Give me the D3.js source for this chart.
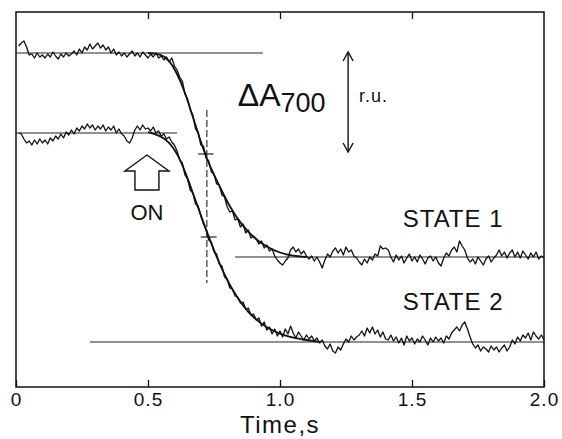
<!DOCTYPE html>
<html>
<head>
<meta charset="utf-8">
<script src="https://cdn.jsdelivr.net/npm/d3@7"></script>
<style>
  body { margin: 0; background: #fff; }
  svg { display: block; }
  text { font-family: "Liberation Sans", Arial, sans-serif; fill: #111; }
</style>
</head>
<body>
<div id="chart"></div>
<script>
// sampling of the recorded traces
const tStart = 0.01, dt = 0.01

// STATE 1 trace (upper), r.u.
const state1 = [
  3.41, 3.44, 3.46, 3.40, 3.32, 3.33, 3.29, 3.34, 3.30, 3.32,
  3.29, 3.33, 3.30, 3.35, 3.31, 3.28, 3.33, 3.30, 3.34, 3.31,
  3.33, 3.36, 3.32, 3.38, 3.34, 3.40, 3.37, 3.43, 3.38, 3.41,
  3.44, 3.39, 3.42, 3.37, 3.40, 3.34, 3.38, 3.32, 3.35, 3.31,
  3.34, 3.30, 3.33, 3.36, 3.31, 3.34, 3.30, 3.35, 3.32, 3.29,
  3.33, 3.30, 3.34, 3.29, 3.31, 3.27, 3.30, 3.25, 3.29, 3.21,
  3.17, 3.10, 3.06, 2.93, 2.88, 2.77, 2.72, 2.58, 2.55, 2.42,
  2.41, 2.29, 2.26, 2.15, 2.13, 2.03, 2.02, 1.92, 1.90, 1.80,
  1.75, 1.76, 1.67, 1.68, 1.60, 1.63, 1.54, 1.57, 1.49, 1.51,
  1.48, 1.43, 1.46, 1.39, 1.42, 1.36, 1.38, 1.31, 1.27, 1.24,
  1.22, 1.26, 1.29, 1.37, 1.40, 1.35, 1.38, 1.33, 1.36, 1.31,
  1.28, 1.31, 1.26, 1.30, 1.25, 1.19, 1.27, 1.33, 1.30, 1.36,
  1.39, 1.34, 1.38, 1.32, 1.40, 1.35, 1.37, 1.31, 1.29, 1.25,
  1.22, 1.28, 1.24, 1.30, 1.27, 1.33, 1.31, 1.41, 1.38, 1.39,
  1.37, 1.30, 1.25, 1.32, 1.27, 1.31, 1.24, 1.29, 1.33, 1.26,
  1.30, 1.25, 1.32, 1.28, 1.23, 1.29, 1.31, 1.26, 1.30, 1.24,
  1.21, 1.29, 1.34, 1.31, 1.37, 1.40, 1.35, 1.46, 1.41, 1.37,
  1.29, 1.25, 1.28, 1.23, 1.30, 1.26, 1.22, 1.28, 1.31, 1.25,
  1.29, 1.32, 1.37, 1.31, 1.35, 1.29, 1.34, 1.37, 1.30, 1.35,
  1.29, 1.36, 1.32, 1.28, 1.34, 1.30, 1.35, 1.28, 1.31, 1.29
]

// STATE 2 trace (lower)
const state2 = [
  2.54, 2.53, 2.48, 2.44, 2.46, 2.42, 2.47, 2.43, 2.48, 2.44,
  2.47, 2.43, 2.49, 2.46, 2.51, 2.48, 2.53, 2.49, 2.55, 2.52,
  2.57, 2.53, 2.59, 2.56, 2.61, 2.58, 2.63, 2.59, 2.62, 2.57,
  2.61, 2.58, 2.62, 2.56, 2.60, 2.57, 2.61, 2.54, 2.58, 2.53,
  2.51, 2.46, 2.44, 2.49, 2.57, 2.61, 2.57, 2.62, 2.58, 2.59,
  2.56, 2.60, 2.54, 2.56, 2.51, 2.53, 2.48, 2.50, 2.45, 2.42,
  2.36, 2.27, 2.24, 2.12, 2.08, 1.97, 1.94, 1.83, 1.81, 1.71,
  1.63, 1.57, 1.47, 1.45, 1.35, 1.33, 1.23, 1.21, 1.10, 1.08,
  0.99, 0.98, 0.91, 0.90, 0.84, 0.85, 0.78, 0.79, 0.72, 0.73,
  0.67, 0.69, 0.61, 0.65, 0.57, 0.60, 0.53, 0.58, 0.51, 0.56,
  0.50, 0.58, 0.53, 0.61, 0.54, 0.49, 0.55, 0.51, 0.47, 0.52,
  0.48, 0.51, 0.46, 0.49, 0.44, 0.47, 0.41, 0.38, 0.43, 0.36,
  0.34, 0.40, 0.37, 0.43, 0.48, 0.45, 0.51, 0.47, 0.50, 0.52,
  0.56, 0.51, 0.59, 0.54, 0.60, 0.53, 0.57, 0.50, 0.55, 0.48,
  0.47, 0.52, 0.46, 0.50, 0.44, 0.49, 0.42, 0.51, 0.46, 0.49,
  0.43, 0.48, 0.45, 0.51, 0.47, 0.42, 0.49, 0.45, 0.50, 0.46,
  0.49, 0.44, 0.51, 0.48, 0.54, 0.57, 0.60, 0.56, 0.62, 0.65,
  0.58, 0.50, 0.43, 0.39, 0.42, 0.36, 0.40, 0.38, 0.35, 0.41,
  0.37, 0.40, 0.35, 0.39, 0.42, 0.36, 0.40, 0.47, 0.43, 0.50,
  0.46, 0.52, 0.49, 0.54, 0.47, 0.55, 0.51, 0.48, 0.52, 0.47
]

// smooth fitted curves [t, value]
const fit1 = [[0.50,3.34],[0.55,3.33],[0.58,3.27],[0.61,3.14],[0.64,2.95],[0.67,2.70],
  [0.70,2.45],[0.72,2.30],[0.75,2.12],[0.78,1.96],[0.81,1.80],[0.85,1.64],[0.90,1.49],
  [0.95,1.40],[1.00,1.34],[1.05,1.31],[1.10,1.30]]
const fit2 = [[0.50,2.55],[0.55,2.51],[0.58,2.45],[0.61,2.34],[0.64,2.16],[0.67,1.94],
  [0.70,1.72],[0.73,1.50],[0.76,1.30],[0.79,1.12],[0.82,0.97],[0.86,0.81],[0.90,0.69],
  [0.95,0.59],[1.00,0.53],[1.05,0.49],[1.10,0.47],[1.15,0.45]]

// horizontal reference levels: [t0, t1, value]
const levels = [[0, 0.935, 3.34], [0, 0.61, 2.54], [0.83, 2.0, 1.30], [0.28, 2.0, 0.45]]
// half-time marks
const tHalf = 0.723
const halfMarks = [[0.69, 0.748, 2.33], [0.70, 0.76, 1.50]]
const dashRange = [1.04, 2.77]

const xTicks = [0, 0.5, 1.0, 1.5, 2.0]
const xTickLabels = ['0', '0.5', '1.0', '1.5', '2.0']

var width = 562, height = 439
var margin = {left: 16, top: 12, right: 18, bottom: 52}

var svg = d3.select('#chart').append('svg')
    .attr('width', width)
    .attr('height', height)

var x = d3.scaleLinear().domain([0, 2]).range([margin.left, width - margin.right])
var y = d3.scaleLinear().domain([0, 3.75]).range([height - margin.bottom, margin.top])

var toPts = arr => arr.map((v, i) => [tStart + i * dt, v])
var line = d3.line().x(d => x(d[0])).y(d => y(d[1]))
var smooth = d3.line().x(d => x(d[0])).y(d => y(d[1])).curve(d3.curveBasis)

// frame
svg.append('rect')
    .attr('x', x(0)).attr('y', y(3.75))
    .attr('width', x(2) - x(0)).attr('height', y(0) - y(3.75))
    .attr('fill', 'none').attr('stroke', '#111').attr('stroke-width', 1.5)

// axes (ticks pointing inward)
var xAxis = d3.axisBottom(x).tickValues(xTicks).tickSize(-7).tickPadding(6)
    .tickFormat((d, i) => xTickLabels[i])
var gx = svg.append('g').attr('transform', `translate(0,${y(0)})`).call(xAxis)
gx.select('.domain').remove()
gx.selectAll('line').attr('stroke', '#111').attr('stroke-width', 1.3)
gx.selectAll('text').attr('font-size', 19).attr('fill', '#111')
    .style('letter-spacing', '1px')

var gt = svg.append('g').attr('transform', `translate(0,${y(3.75)})`)
    .call(d3.axisTop(x).tickValues(xTicks.slice(1, -1)).tickSize(-7).tickFormat(''))
gt.select('.domain').remove()
gt.selectAll('line').attr('stroke', '#111').attr('stroke-width', 1.3)

svg.append('text')
    .attr('x', x(1.0)).attr('y', height - 6)
    .attr('text-anchor', 'middle')
    .attr('font-size', 24)
    .style('letter-spacing', '1.5px')
    .text('Time,s')

// reference levels
svg.selectAll('.level')
    .data(levels)
    .enter()
    .append('line')
    .attr('x1', d => x(d[0])).attr('x2', d => x(d[1]))
    .attr('y1', d => y(d[2])).attr('y2', d => y(d[2]))
    .attr('stroke', '#222').attr('stroke-width', 1.1)

// dashed half-time line
svg.append('line')
    .attr('x1', x(tHalf)).attr('x2', x(tHalf))
    .attr('y1', y(dashRange[1])).attr('y2', y(dashRange[0]))
    .attr('stroke', '#222').attr('stroke-width', 1.1)
    .attr('stroke-dasharray', '7,3')
svg.selectAll('.half')
    .data(halfMarks)
    .enter()
    .append('line')
    .attr('x1', d => x(d[0])).attr('x2', d => x(d[1]))
    .attr('y1', d => y(d[2])).attr('y2', d => y(d[2]))
    .attr('stroke', '#222').attr('stroke-width', 1.2)

// fits
;[fit1, fit2].forEach(f => {
    svg.append('path').attr('d', smooth(f))
        .attr('fill', 'none').attr('stroke', '#111').attr('stroke-width', 1.8)
})

// noisy traces
;[state1, state2].forEach(s => {
    svg.append('path').attr('d', line(toPts(s)))
        .attr('fill', 'none').attr('stroke', '#111').attr('stroke-width', 1.3)
        .attr('stroke-linejoin', 'round')
})

// double-headed scale arrow (1 r.u.)
var arrT = 1.258, arrV = [2.35, 3.35]
var ax = x(arrT)
svg.append('line')
    .attr('x1', ax).attr('x2', ax).attr('y1', y(arrV[1])).attr('y2', y(arrV[0]))
    .attr('stroke', '#111').attr('stroke-width', 1.4)
svg.append('path')
    .attr('d', `M${ax - 5},${y(arrV[1]) + 9}L${ax},${y(arrV[1])}L${ax + 5},${y(arrV[1]) + 9}` +
        `M${ax - 5},${y(arrV[0]) - 9}L${ax},${y(arrV[0])}L${ax + 5},${y(arrV[0]) - 9}`)
    .attr('fill', 'none').attr('stroke', '#111').attr('stroke-width', 1.4)

var lab = svg.append('text').attr('x', x(0.84)).attr('y', y(2.81))
lab.append('tspan').attr('font-size', 32).text('ΔA')
lab.append('tspan').attr('font-size', 27).attr('dy', 6).text('700')
svg.append('text')
    .attr('x', ax + 11).attr('y', y(2.85))
    .attr('font-size', 18).style('letter-spacing', '1px')
    .text('r.u.')

// "ON" hollow arrow
var onX = x(0.496), onY = y(2.32)
var onShape = [[0, 0], [22, 16], [12, 16], [12, 35], [-12, 35], [-12, 16], [-22, 16]]
svg.append('path')
    .attr('d', d3.line()(onShape.map(p => [onX + p[0], onY + p[1]])) + 'Z')
    .attr('fill', 'none').attr('stroke', '#111').attr('stroke-width', 1.4)
svg.append('text')
    .attr('x', onX).attr('y', onY + 65)
    .attr('text-anchor', 'middle').attr('font-size', 22)
    .text('ON')

svg.append('text').attr('x', x(1.465)).attr('y', y(1.6))
    .attr('font-size', 24).style('letter-spacing', '1px').text('STATE 1')
svg.append('text').attr('x', x(1.465)).attr('y', y(0.77))
    .attr('font-size', 24).style('letter-spacing', '1px').text('STATE 2')
</script>
</body>
</html>
